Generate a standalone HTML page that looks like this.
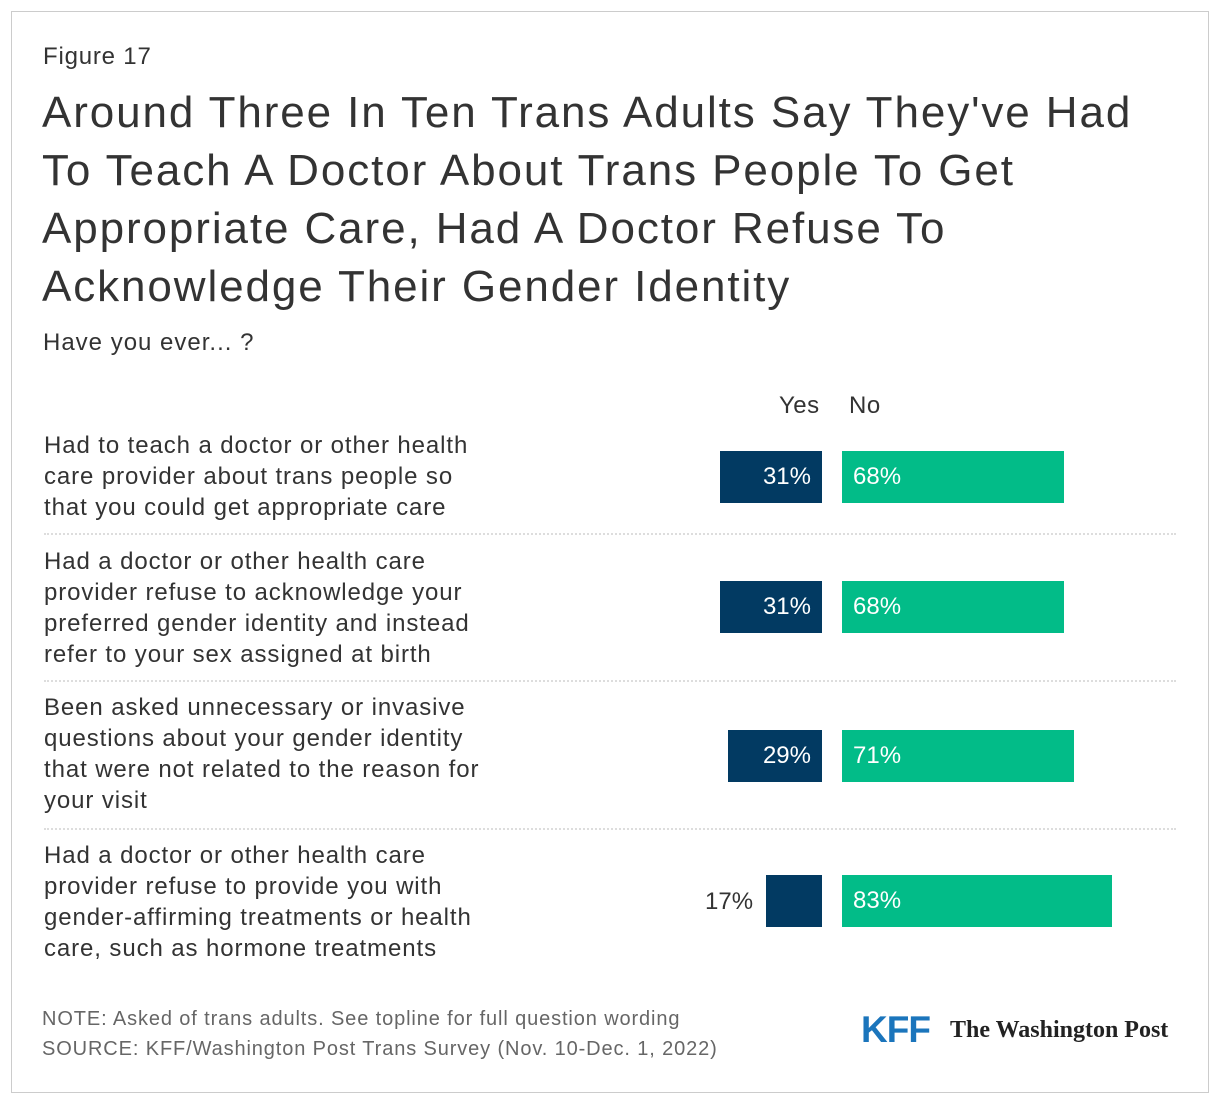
<!DOCTYPE html>
<html><head><meta charset="utf-8"><style>
body{margin:0;width:1220px;height:1104px;background:#fff;font-family:"Liberation Sans",Arial,sans-serif;color:#333;position:relative;overflow:hidden}
.box{position:absolute;left:11px;top:11px;width:1196px;height:1080px;border:1px solid #ccc}
.a{position:absolute;white-space:nowrap}
.lab{position:absolute;left:44px;font-size:24px;line-height:31px;color:#333;letter-spacing:0.9px}
.y{position:absolute;background:#023a62;height:52px;color:#fff;font-size:24px;line-height:52px;text-align:right;box-sizing:border-box;padding-right:11px}
.n{position:absolute;left:842px;background:#02bc88;height:52px;color:#fff;font-size:24px;line-height:52px;box-sizing:border-box;padding-left:11px}
.sep{position:absolute;left:44px;width:1132px;border-top:2px dotted #ddd}
</style></head><body>
<div class="box"></div>
<div class="a" style="left:43px;top:43px;font-size:24px;letter-spacing:0.8px">Figure 17</div>
<div class="a" style="left:42px;top:84px;font-size:44px;line-height:58px;letter-spacing:1.9px">Around Three In Ten Trans Adults Say They've Had<br>To Teach A Doctor About Trans People To Get<br>Appropriate Care, Had A Doctor Refuse To<br>Acknowledge Their Gender Identity</div>
<div class="a" style="left:43px;top:329px;font-size:24px;letter-spacing:1.0px">Have you ever... ?</div>
<div class="a" style="left:779px;top:392px;font-size:24px;letter-spacing:0.5px">Yes</div>
<div class="a" style="left:849px;top:392px;font-size:24px;letter-spacing:0.5px">No</div>
<div class="lab" style="top:430px">Had to teach a doctor or other health<br>care provider about trans people so<br>that you could get appropriate care</div>
<div class="y" style="left:720px;width:102px;top:451px">31%</div><div class="n" style="width:222px;top:451px">68%</div>
<div class="sep" style="top:533px"></div>
<div class="lab" style="top:546px">Had a doctor or other health care<br>provider refuse to acknowledge your<br>preferred gender identity and instead<br>refer to your sex assigned at birth</div>
<div class="y" style="left:720px;width:102px;top:581px">31%</div><div class="n" style="width:222px;top:581px">68%</div>
<div class="sep" style="top:680px"></div>
<div class="lab" style="top:692px">Been asked unnecessary or invasive<br>questions about your gender identity<br>that were not related to the reason for<br>your visit</div>
<div class="y" style="left:728px;width:94px;top:730px">29%</div><div class="n" style="width:232px;top:730px">71%</div>
<div class="sep" style="top:828px"></div>
<div class="lab" style="top:840px">Had a doctor or other health care<br>provider refuse to provide you with<br>gender-affirming treatments or health<br>care, such as hormone treatments</div>
<div class="a" style="left:705px;top:876px;font-size:24px;line-height:52px">17%</div>
<div class="y" style="left:766px;width:56px;top:875px"></div><div class="n" style="width:270px;top:875px">83%</div>
<div class="a" style="left:42px;top:1004px;font-size:20px;line-height:30px;color:#666;letter-spacing:0.88px">NOTE: Asked of trans adults. See topline for full question wording<br>SOURCE: KFF/Washington Post Trans Survey (Nov. 10-Dec. 1, 2022)</div>
<div class="a" style="left:861px;top:1008px;font-size:37px;font-weight:bold;color:#1b75bc;letter-spacing:-1px;line-height:44px">KFF</div>
<div class="a" style="left:950px;top:1013px;font-size:24px;font-family:'Liberation Serif',serif;font-weight:bold;color:#222;line-height:34px">The Washington Post</div>
</body></html>
